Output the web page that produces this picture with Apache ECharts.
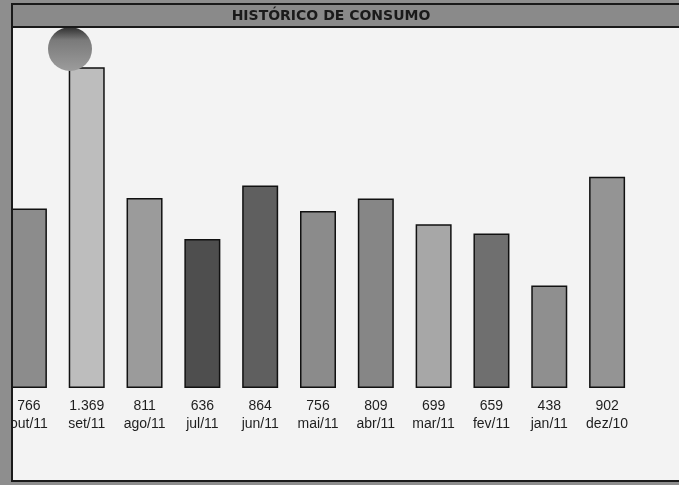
<!DOCTYPE html>
<html>
<head>
<meta charset="utf-8">
<script src="https://cdn.jsdelivr.net/npm/echarts@6/dist/echarts.min.js"></script>
<style>
  html, body { margin: 0; padding: 0; background: #8e8e8e; }
  #chart { width: 679px; height: 485px; }
</style>
</head>
<body>
<div id="chart"></div>
<script>
// --- dados do histórico ---
const meses = ['out/11', 'set/11', 'ago/11', 'jul/11', 'jun/11', 'mai/11', 'abr/11', 'mar/11', 'fev/11', 'jan/11', 'dez/10'];
const consumo = [766, 1369, 811, 636, 864, 756, 809, 699, 659, 438, 902];
const tonsBarras = ['#8c8c8c', '#bdbdbd', '#9b9b9b', '#4e4e4e', '#5f5f5f', '#8b8b8b', '#868686', '#a7a7a7', '#6f6f6f', '#8f8f8f', '#949494'];

function formatarKwh(v) {
    // separador de milhar com ponto (pt-BR)
    return String(v).replace(/\B(?=(\d{3})+(?!\d))/g, '.');
}

const chart = echarts.init(document.getElementById('chart'));

const option = {
    backgroundColor: '#8e8e8e',
    animation: false,
    grid: { left: -2, width: 638, top: 60, height: 328 },
    xAxis: {
        type: 'category',
        data: meses,
        axisLine: { show: false },
        axisTick: { show: false },
        axisLabel: {
            interval: 0,
            margin: 9,
            formatter: function (value, idx) {
                return '{v|' + formatarKwh(consumo[idx]) + '}\n{c|' + value + '}';
            },
            rich: {
                v: { fontFamily: 'Liberation Sans', fontSize: 14, color: '#1e1e1e', lineHeight: 18 },
                c: { fontFamily: 'Liberation Sans', fontSize: 14, color: '#1e1e1e', lineHeight: 18 }
            }
        }
    },
    yAxis: {
        type: 'value',
        min: 0,
        max: 1400,
        show: false
    },
    series: [{
        type: 'bar',
        barWidth: 36,
        data: consumo.map((v, i) => ({
            value: v,
            itemStyle: { color: tonsBarras[i] }
        })),
        itemStyle: { borderColor: '#111', borderWidth: 1.5 }
    }],
    graphic: [
        // área branca do gráfico
        { type: 'rect', z: -10, shape: { x: 11, y: 27, width: 668, height: 454 }, style: { fill: '#f3f3f3' } },
        // moldura
        { type: 'rect', z: 100, shape: { x: 0, y: 0, width: 11, height: 485 }, style: { fill: '#8e8e8e' } },
        { type: 'rect', z: 100, shape: { x: 11, y: 4, width: 668, height: 23 }, style: { fill: '#8a8a8a' } },
        { type: 'line', z: 101, shape: { x1: 11, y1: 4, x2: 679, y2: 4 }, style: { stroke: '#1a1a1a', lineWidth: 2 } },
        { type: 'line', z: 101, shape: { x1: 11, y1: 27, x2: 679, y2: 27 }, style: { stroke: '#1a1a1a', lineWidth: 2 } },
        { type: 'line', z: 101, shape: { x1: 12, y1: 4, x2: 12, y2: 482 }, style: { stroke: '#1a1a1a', lineWidth: 2 } },
        { type: 'line', z: 101, shape: { x1: 11, y1: 481, x2: 679, y2: 481 }, style: { stroke: '#1a1a1a', lineWidth: 2 } },
        {
            type: 'text', z: 102, x: 331, y: 16,
            style: {
                text: 'HISTÓRICO DE CONSUMO',
                fontFamily: 'DejaVu Sans', fontWeight: 'bold', fontSize: 14,
                fill: '#1a1a1a', align: 'center', verticalAlign: 'middle'
            }
        },
        // esfera decorativa
        {
            type: 'circle', z: 50, shape: { cx: 70, cy: 49, r: 22 },
            style: {
                fill: new echarts.graphic.LinearGradient(0, 0, 0, 1, [
                    { offset: 0, color: '#2e2e2e' },
                    { offset: 0.3, color: '#7a7a7a' },
                    { offset: 1, color: '#9c9c9c' }
                ])
            }
        }
    ]
};

chart.setOption(option);
</script>
</body>
</html>
